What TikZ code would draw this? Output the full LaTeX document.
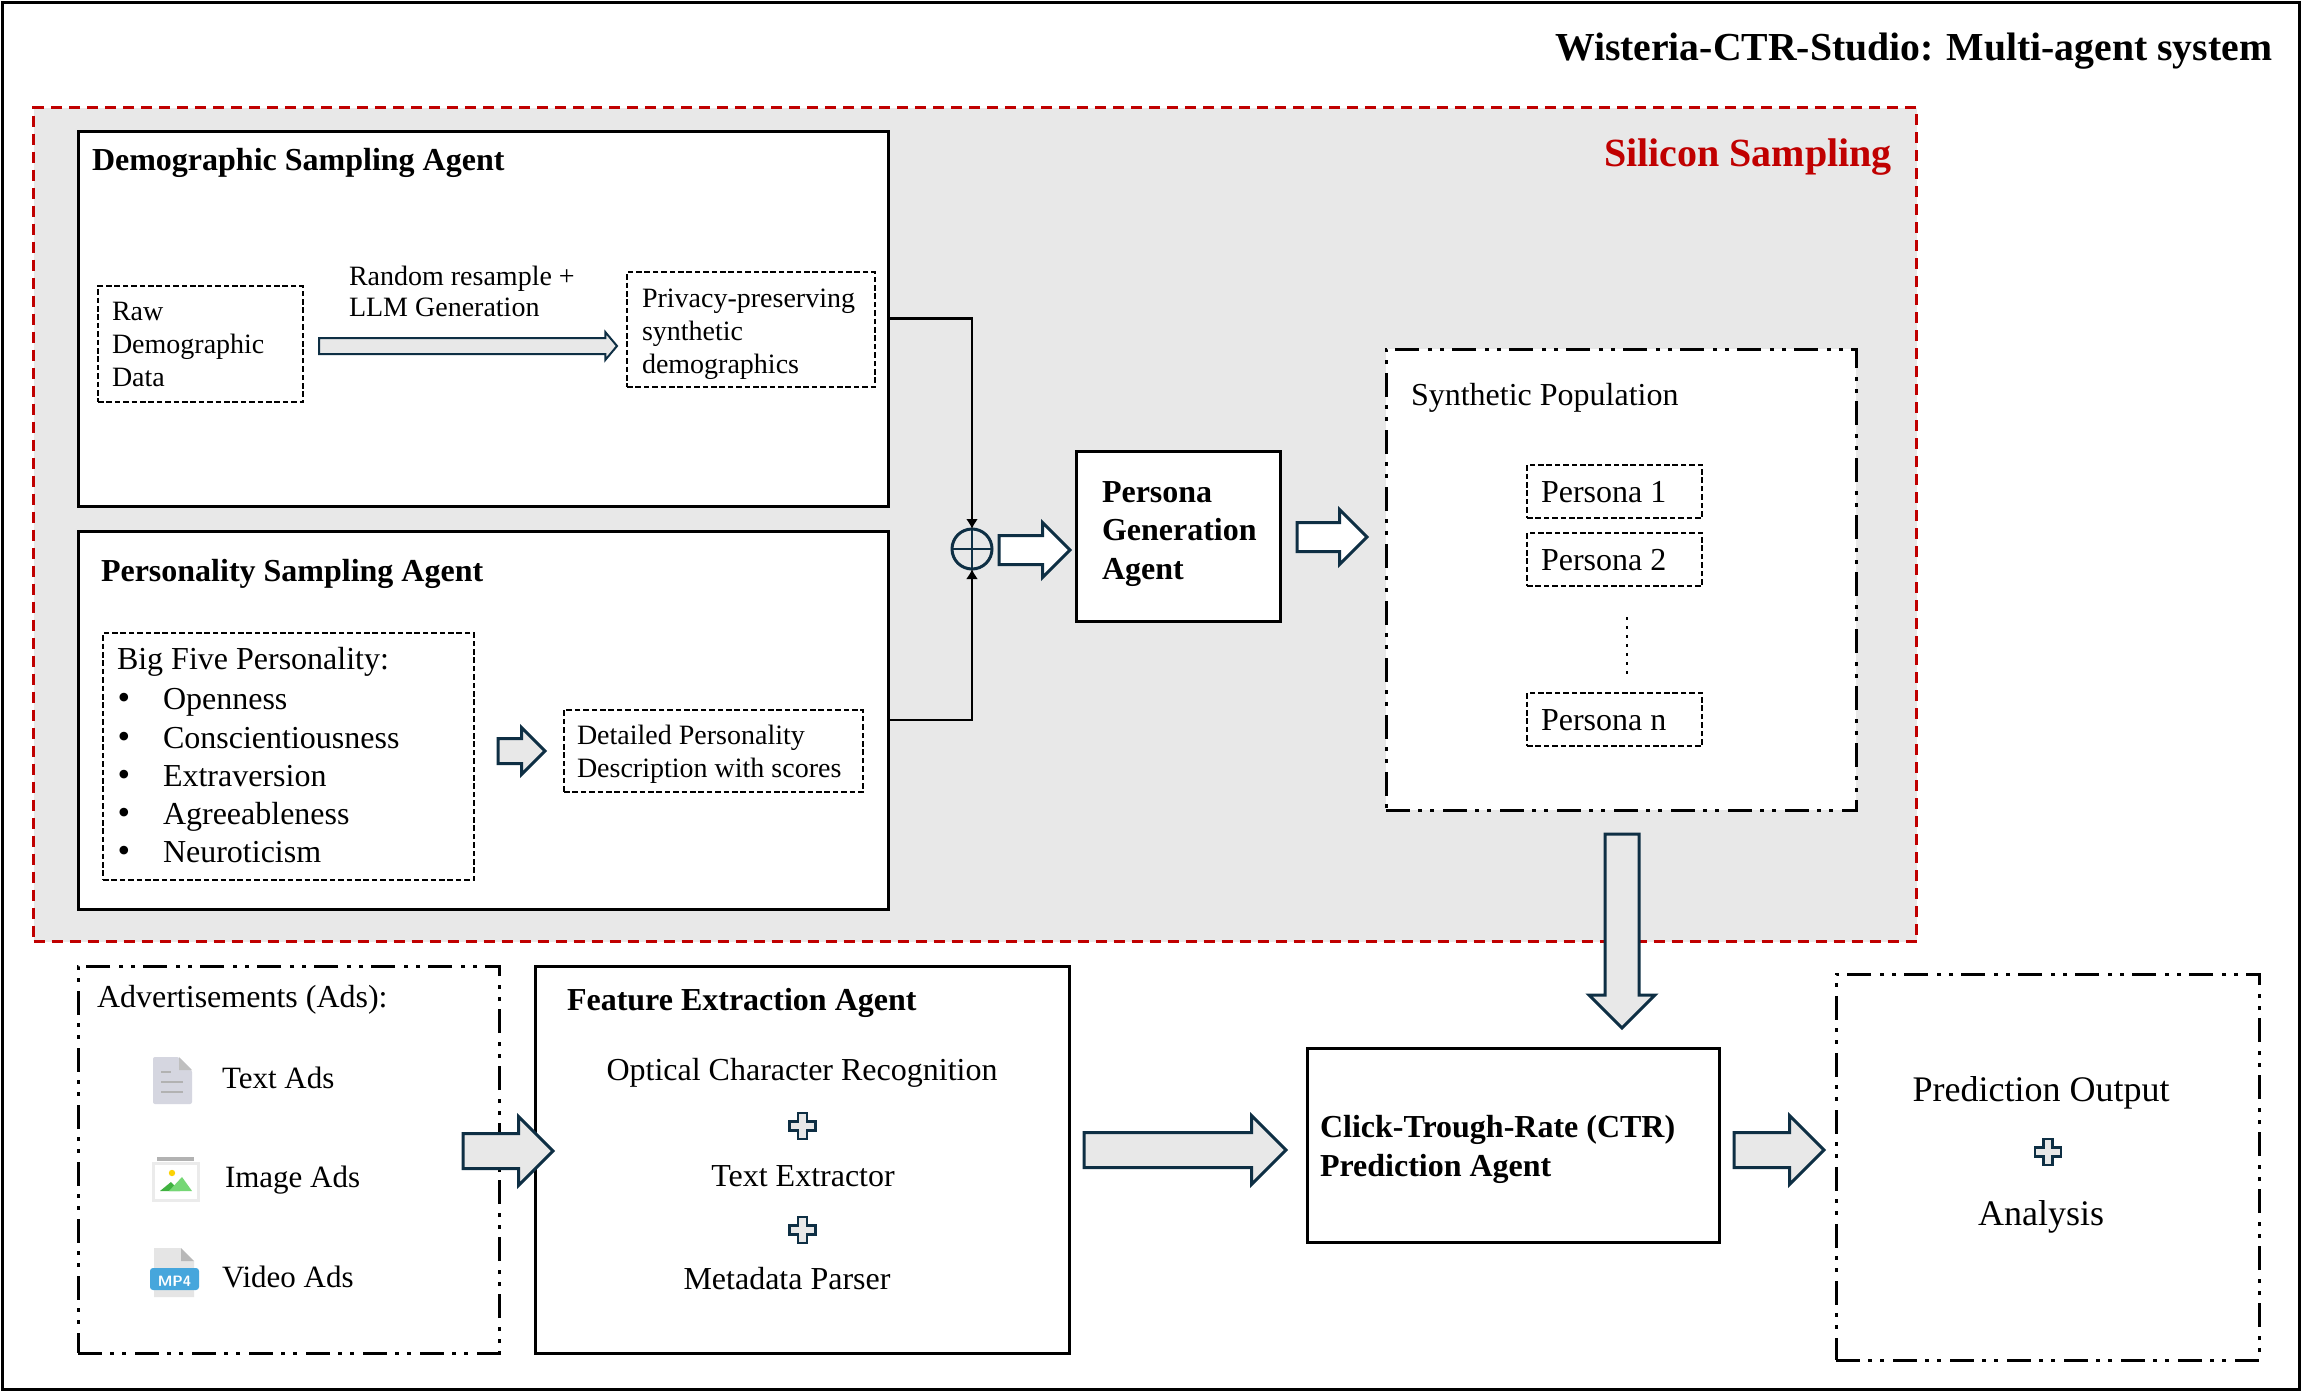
\documentclass[tikz,border=0pt]{standalone}
\usepackage{fontspec}
\setmainfont{Liberation Serif}
\usepackage{xcolor}
\usetikzlibrary{arrows.meta}
\usetikzlibrary{shapes.arrows}

\definecolor{siliconred}{HTML}{C00000}
\definecolor{silicongray}{HTML}{E8E8E8}
\definecolor{arrowteal}{HTML}{0E2F44}
\definecolor{arrowgray}{HTML}{E8E8E8}

\tikzset{
  agentbox/.style={draw=black,fill=white,line width=1.5pt,anchor=north west,inner sep=0pt,outer sep=0pt},
  mixbox/.style={draw=black,fill=white,line width=1.5pt,anchor=north west,inner sep=0pt,outer sep=0pt,
    dash pattern=on 12pt off 4pt on 2pt off 4pt on 2pt off 4.5pt},
  databox/.style={draw=black,line width=1pt,anchor=north west,inner sep=0pt,outer sep=0pt,
    dash pattern=on 2.8pt off 1.4pt},
  lbl/.style 2 args={font=\fontsize{#1}{#2}\selectfont,anchor=base west,inner sep=0pt,outer sep=0pt,align=left},
  midlbl/.style={font=\fontsize{#1}{#1}\selectfont,anchor=base,inner sep=0pt,outer sep=0pt},
  blockarrow/.style n args={3}{single arrow,draw=arrowteal,line width=1.5pt,inner xsep=0pt,inner ysep=#2,outer sep=0pt,
    anchor=tail,minimum height=#1,single arrow head extend=#3,fill=arrowgray},
  plusmark/.style={draw=arrowteal,fill=arrowgray,line width=1.2pt,line join=miter},
  joinline/.style={black,line width=1.4pt,-{Latex[length=5pt,width=6pt]}},
}

\newcommand{\plussign}[1]{\draw[plusmark,shift={(#1)}] (-13,-4.5) -- (-4.5,-4.5) -- (-4.5,-13) -- (4.5,-13) -- (4.5,-4.5)
  -- (13,-4.5) -- (13,4.5) -- (4.5,4.5) -- (4.5,13) -- (-4.5,13) -- (-4.5,4.5) -- (-13,4.5) -- cycle;}

\begin{document}
\begin{tikzpicture}[x=0.5pt,y=-0.5pt]
\useasboundingbox (0,0) rectangle (2302,1392);
\draw[black,line width=1.5pt] (2,2) rectangle (2299,1389);
\node[lbl={19.85}{24}] (title) at (1555,60) {\bfseries Wisteria-CTR-Studio: Multi-agent system};

\node[draw=siliconred,fill=silicongray,line width=1.5pt,dash pattern=on 5.5pt off 3.5pt,anchor=north west,inner sep=0pt,
  minimum width=941.5pt,minimum height=417pt] (silicon) at (32,106) {};
\node[lbl={20}{24},text=siliconred] (silicontitle) at (1604,166) {\bfseries Silicon Sampling};

\node[agentbox,minimum width=405pt,minimum height=187.5pt] (demog) at (78,131) {};
\node[lbl={16}{19}] (demogtitle) at (92,170) {\bfseries Demographic Sampling Agent};
\node[databox,minimum width=102.5pt,minimum height=58pt] (raw) at (98,286) {};
\node[lbl={14}{16.5}] (rawtext) at (112,386) {Raw\\Demographic\\Data};
\node[blockarrow={149pt}{3.5pt}{3pt},line width=1pt,single arrow tip angle=100] (rawarrow) at (319,346) {};
\node[lbl={14}{15.5}] (resample) at (349,316) {Random resample +\\LLM Generation};
\node[databox,minimum width=124pt,minimum height=57.5pt] (privacy) at (627,272) {};
\node[lbl={14}{16.5}] (privacytext) at (642,373) {Privacy-preserving\\synthetic\\demographics};

\node[agentbox,minimum width=405pt,minimum height=189pt] (person) at (78,531) {};
\node[lbl={16}{19}] (persontitle) at (101,581) {\bfseries Personality Sampling Agent};
\node[databox,minimum width=185.5pt,minimum height=123.5pt] (bigfive) at (103,633) {};
\node[lbl={16}{19}] (bigfivetitle) at (117,669) {Big Five Personality:};
\foreach \y/\ytext in {709/Openness,748/Conscientiousness,786/Extraversion,824/Agreeableness,862/Neuroticism}{
  \node[midlbl=18] (bullet\y) at (124,\y) {\textbullet};
  \node[lbl={16}{19}] (trait\y) at (163,\y) {\ytext};
}
\node[blockarrow={23.5pt}{5.5pt}{5.5pt}] (bigfivearrow) at (498,751) {};
\node[databox,minimum width=149.5pt,minimum height=41pt] (detail) at (564,710) {};
\node[lbl={14}{16.5}] (detailtext) at (577,777) {Detailed Personality\\Description with scores};

\node[circle,draw=arrowteal,line width=1.5pt,minimum size=20pt,inner sep=0pt,outer sep=0pt] (oplus) at (972,549) {};
\draw[arrowteal,line width=1.2pt] (oplus.north) -- (oplus.south) (oplus.west) -- (oplus.east);
\draw[joinline] (demog.east) -| (oplus.north);
\draw[joinline] (person.east) -| (oplus.south);

\node[blockarrow={35.5pt}{6.5pt}{6.5pt},fill=white] (mixarrow) at (999,550) {};
\node[agentbox,minimum width=102pt,minimum height=85pt] (personagen) at (1076,451) {};
\node[lbl={16}{19.2}] (personagentext) at (1102,579) {\bfseries Persona\\\bfseries Generation\\\bfseries Agent};
\node[blockarrow={35pt}{6.5pt}{6.5pt},fill=white] (genarrow) at (1297,537) {};

\node[mixbox,minimum width=235pt,minimum height=230.5pt] (population) at (1386,349) {};
\node[lbl={16}{19}] (populationtitle) at (1411,405) {Synthetic Population};
\foreach \n/\y/\b in {1/465/502,2/533/570,n/693/730}{
  \node[databox,minimum width=87.5pt,minimum height=26.5pt] (persona\n) at (1527,\y) {};
  \node[lbl={16}{19}] (personatext\n) at (1541,\b) {Persona \n};
}
\coordinate (dotstop) at (1627,617);
\coordinate (dotsend) at (1627,678);
\draw[black,line width=1.4pt,dash pattern=on 1.5pt off 3pt] (dotstop) -- (dotsend);

\node[mixbox,minimum width=210.5pt,minimum height=193.5pt] (ads) at (78,966) {};
\node[lbl={16}{19}] (adstitle) at (97,1007) {Advertisements (Ads):};

% text ads icon
\fill[rounded corners=1pt,fill={rgb,255:red,213;green,214;blue,224}] (153,1057) -- (179,1057) -- (192,1070) -- (192,1104) -- (153,1104) -- cycle;
\fill[gray!50] (179,1057) -- (192,1070) -- (179,1070) -- cycle;
\foreach \y/\xend in {1072/171,1082/183,1092/183}
  \draw[gray!60,line width=0.8pt] (161,\y) -- (\xend,\y);
\node[lbl={15.5}{18}] (textads) at (222,1088) {Text Ads};

% image ads icon
\fill[gray!60] (157,1157) rectangle (194,1161);
\draw[black!8,fill=white,line width=1.5pt] (153,1163) rectangle (198,1200);
\fill[yellow!70!orange] (172,1173) circle (3.2);
\fill[green!60!black!75] (160,1191) -- (171,1182) -- (180,1191) -- cycle;
\fill[green!55!gray!70] (169,1191) -- (182,1177) -- (192,1191) -- cycle;
\node[lbl={15.5}{18}] (imageads) at (225,1187) {Image Ads};

% video ads icon
\fill[black!10] (154,1248) -- (181,1248) -- (194,1261) -- (194,1297) -- (154,1297) -- cycle;
\fill[black!28] (181,1248) -- (194,1261) -- (181,1261) -- cycle;
\fill[rounded corners=1.5pt,fill={rgb,255:red,70;green,166;blue,220}] (150,1268) rectangle (199,1290);
\node[font=\fontsize{7.5}{8}\selectfont\bfseries\sffamily,text=white,inner sep=0pt] (mpfour) at (174.5,1281) {MP4};
\node[lbl={15.5}{18}] (videoads) at (222,1287) {Video Ads};

\node[agentbox,minimum width=267pt,minimum height=193.5pt] (feature) at (535,966) {};
\node[lbl={16}{19}] (featuretitle) at (567,1010) {\bfseries Feature Extraction Agent};
\node[midlbl=16] (ocr) at (802,1080) {Optical Character Recognition};
\plussign{802.5,1126}
\node[midlbl=16] (extractor) at (803,1186) {Text Extractor};
\plussign{802.5,1230}
\node[midlbl=16] (parser) at (787,1289) {Metadata Parser};

\node[blockarrow={45pt}{8pt}{8.5pt}] (adsarrow) at (463,1151) {};
\node[blockarrow={101pt}{8pt}{8.5pt}] (featurearrow) at (1084,1150) {};

\node[agentbox,minimum width=206pt,minimum height=97pt] (ctr) at (1307,1048) {};
\node[lbl={16}{19.5}] (ctrtext) at (1320,1176) {\bfseries Click-Trough-Rate (CTR)\\\bfseries Prediction Agent};
\node[blockarrow={45pt}{8pt}{8.5pt}] (ctrarrow) at (1734,1150) {};

\node[blockarrow={97pt}{7.75pt}{8pt},rotate=-90] (poparrow) at (1622,834) {};

\node[mixbox,minimum width=211.5pt,minimum height=193pt] (output) at (1836,974) {};
\node[midlbl=18] (outputtext) at (2041,1101) {Prediction Output};
\plussign{2048,1152}
\node[midlbl=18] (analysis) at (2041,1225) {Analysis};
\end{tikzpicture}
\end{document}
